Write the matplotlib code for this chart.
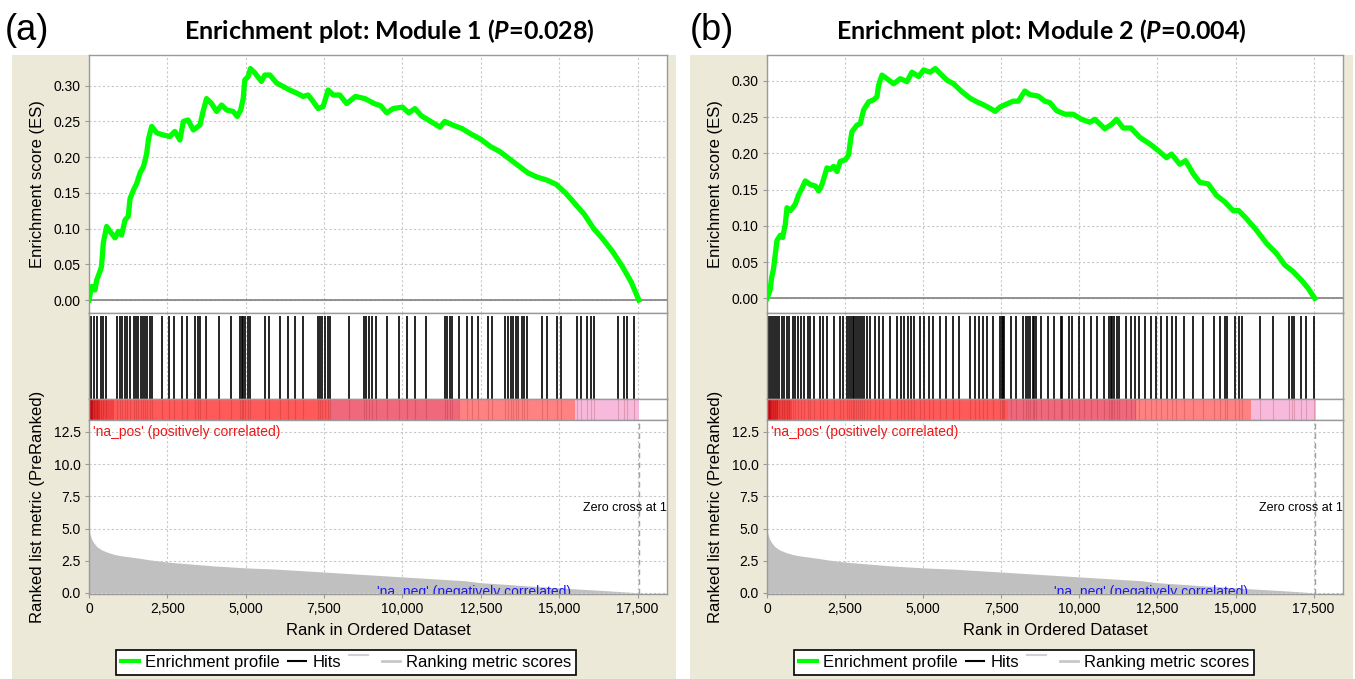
import numpy as np
import matplotlib
matplotlib.use("Agg")
import matplotlib.pyplot as plt
from matplotlib.patches import Rectangle
from matplotlib.lines import Line2D
from matplotlib.transforms import Affine2D
from matplotlib.ticker import FuncFormatter, MultipleLocator

plt.rcParams['font.family'] = ['Liberation Sans', 'DejaVu Sans']
plt.rcParams['mathtext.fontset'] = 'custom'
plt.rcParams['mathtext.it'] = 'Lato:bold:italic'
plt.rcParams['mathtext.rm'] = 'Lato:bold'

# ---- data ----
# running enrichment score, module 1
es_a_rank = [0, 85, 190, 245, 350, 400, 457, 563, 670, 830, 935, 1040, 1150, 1250, 1310, 1420,
             1520, 1630, 1740, 1840, 1900, 2000, 2160, 2370, 2580, 2740, 2900, 3010, 3160, 3330,
             3540, 3640, 3750, 3910, 4070, 4230, 4390, 4600, 4730, 4840, 4920, 4970, 5080, 5150,
             5290, 5500, 5610, 5770, 5980, 6190, 6400, 6610, 6830, 6990, 7150, 7310, 7470, 7630,
             7790, 8000, 8220, 8500, 8800, 9100, 9300, 9500, 9700, 10000, 10200, 10400, 10600,
             10900, 11200, 11350, 11600, 11900, 12200, 12500, 12800, 13100, 13400, 13700, 14000,
             14300, 14600, 14900, 15200, 15500, 15800, 16100, 16400, 16700, 17000, 17300, 17540]
es_a = [0.000, 0.019, 0.014, 0.028, 0.040, 0.047, 0.080, 0.103, 0.096, 0.087, 0.096, 0.091,
        0.112, 0.117, 0.142, 0.154, 0.163, 0.178, 0.187, 0.205, 0.226, 0.243, 0.234, 0.231,
        0.229, 0.236, 0.224, 0.250, 0.252, 0.238, 0.245, 0.264, 0.282, 0.275, 0.264, 0.273,
        0.266, 0.264, 0.257, 0.266, 0.282, 0.308, 0.313, 0.324, 0.318, 0.306, 0.315, 0.315,
        0.304, 0.299, 0.294, 0.290, 0.285, 0.287, 0.278, 0.268, 0.271, 0.294, 0.287, 0.287,
        0.275, 0.285, 0.282, 0.275, 0.272, 0.262, 0.268, 0.270, 0.262, 0.268, 0.258, 0.250,
        0.242, 0.250, 0.245, 0.240, 0.232, 0.225, 0.215, 0.208, 0.198, 0.188, 0.178, 0.172,
        0.168, 0.162, 0.150, 0.135, 0.120, 0.100, 0.085, 0.068, 0.048, 0.025, 0.000]

# running enrichment score, module 2
es_b_rank = [0, 96, 150, 210, 266, 320, 426, 500, 586, 640, 750, 906, 1013, 1120, 1226, 1386,
             1546, 1653, 1760, 1920, 2026, 2133, 2240, 2346, 2506, 2613, 2666, 2720, 2880, 2986,
             3093, 3253, 3413, 3520, 3573, 3680, 3840, 4053, 4266, 4480, 4640, 4853, 5013, 5226,
             5386, 5546, 5760, 5973, 6240, 6506, 6720, 6933, 7146, 7306, 7466, 7670, 7880, 8050,
             8256, 8416, 8683, 8896, 9056, 9270, 9536, 9803, 10070, 10336, 10496, 10816, 11030,
             11190, 11403, 11650, 11936, 12256, 12522, 12790, 12950, 13216, 13400, 13643, 13856,
             14122, 14390, 14656, 14922, 15100, 15350, 15670, 15990, 16310, 16576, 16842, 17110,
             17322, 17536]
es_b = [0.000, 0.011, 0.029, 0.041, 0.061, 0.080, 0.087, 0.084, 0.102, 0.125, 0.121, 0.130,
        0.143, 0.152, 0.162, 0.157, 0.155, 0.148, 0.157, 0.180, 0.178, 0.182, 0.175, 0.189,
        0.191, 0.198, 0.216, 0.230, 0.239, 0.241, 0.260, 0.271, 0.274, 0.278, 0.294, 0.308,
        0.303, 0.296, 0.303, 0.299, 0.312, 0.306, 0.315, 0.312, 0.317, 0.310, 0.301, 0.296,
        0.285, 0.276, 0.271, 0.267, 0.262, 0.258, 0.264, 0.268, 0.272, 0.272, 0.286, 0.281,
        0.279, 0.272, 0.270, 0.259, 0.254, 0.254, 0.247, 0.243, 0.247, 0.234, 0.240, 0.247,
        0.235, 0.235, 0.222, 0.213, 0.204, 0.194, 0.199, 0.185, 0.190, 0.172, 0.160, 0.158,
        0.142, 0.133, 0.121, 0.121, 0.110, 0.094, 0.076, 0.062, 0.046, 0.037, 0.025, 0.014,
        0.000]

# gene set members (hit ranks)
hits_a = [57, 155, 253, 376, 449, 547, 879, 977, 1063, 1161, 1222, 1308, 1431, 1504, 1578,
          1652, 1738, 1799, 1860, 1946, 2020, 2314, 2560, 2719, 2965, 3124, 3394, 3468, 3541,
          3738, 4155, 4523, 4805, 4866, 4928, 4989, 5063, 5136, 5603, 5750, 6093, 6339, 6584,
          6830, 7296, 7370, 7443, 7541, 7615, 7689, 8302, 8768, 8842, 8940, 9038, 9161, 9504,
          9897, 10143, 10388, 10756, 11345, 11431, 11517, 11590, 11799, 12044, 12228, 12412,
          12719, 12866, 13271, 13357, 13455, 13541, 13627, 13701, 13799, 13885, 13971, 14437,
          14621, 14928, 15051, 15566, 15689, 15885, 16008, 16106, 16867, 17076, 17162, 17382]
hits_b = [56, 120, 190, 260, 330, 400, 470, 540, 640, 700, 817, 900, 980, 1080, 1180, 1300,
          1371, 1520, 1700, 1800, 1925, 2130, 2330, 2420, 2560, 2618, 2680, 2740, 2800, 2860,
          2920, 2980, 3050, 3120, 3200, 3310, 3450, 3600, 3726, 3950, 4160, 4300, 4400, 4500,
          4600, 4696, 4900, 5020, 5180, 5300, 5527, 5740, 5950, 6160, 6500, 6650, 6780, 6912,
          7050, 7250, 7450, 7510, 7560, 7603, 7820, 7980, 8180, 8290, 8360, 8435, 8500, 8560,
          8620, 8780, 8990, 9200, 9400, 9460, 9681, 9760, 9980, 10150, 10374, 10550, 10800,
          10940, 11000, 11060, 11120, 11200, 11274, 11500, 11640, 11780, 11900, 12100, 12300,
          12451, 12620, 12800, 12950, 13100, 13352, 13650, 13950, 14300, 14500, 14650, 14737,
          14980, 15100, 15221, 15775, 16190, 16700, 16800, 16883, 17100, 17250, 17506]

# ranked list metric
metric_rank = [0, 30, 80, 150, 250, 400, 600, 800, 1000, 1300, 1600, 2000, 2500, 3000, 4000,
               5000, 6000, 7000, 7500, 8000, 9000, 10000, 11000, 12000, 12500, 13000, 14000,
               15000, 15500, 16000, 16500, 17000, 17300, 17540]
metric = [5.0, 4.6, 4.2, 3.9, 3.6, 3.35, 3.15, 3.0, 2.9, 2.8, 2.7, 2.55, 2.4, 2.3, 2.1, 1.95,
          1.85, 1.7, 1.63, 1.55, 1.4, 1.25, 1.1, 0.95, 0.8, 0.72, 0.55, 0.4, 0.32, 0.25, 0.18,
          0.1, 0.05, 0.0]

# colour bar under the hits
bar_edges = [0, 120, 350, 800, 7700, 11800, 15500, 17560]
bar_colors = ['#C8101A', '#E02828', '#F24040', '#FF5A5A', '#F0687C', '#FF8282', '#F8BADC']

zero_cross = 17540
n_genes = 18440

W, H = 1355, 679
fig = plt.figure(figsize=(W / 100, H / 100), dpi=100, facecolor='white')


def add_ax(l, t, r, b):
    return fig.add_axes([l / W, 1 - b / H, (r - l) / W, (b - t) / H])


def frame(ax):
    for s in ax.spines.values():
        s.set_color('#9A9A9A')
        s.set_linewidth(1.0)


panels = [
    dict(tag='(a)', name='Enrichment plot: Module 1 ($\\it{P}$=0.028)', left=89, right=667,
         bg=(12, 676), tx=389, tagx=5, rank=es_a_rank, es=es_a, hits=hits_a,
         ylim=(-0.0182, 0.343)),
    dict(tag='(b)', name='Enrichment plot: Module 2 ($\\it{P}$=0.004)', left=767, right=1343,
         bg=(690, 1353), tx=1041, tagx=690, rank=es_b_rank, es=es_b, hits=hits_b,
         ylim=(-0.0202, 0.3357)),
]

grid_kw = dict(color='#C8C8C8', linestyle=(0, (2, 2)), linewidth=0.8)

for p in panels:
    # beige background of the applet window
    fig.add_artist(Rectangle((p['bg'][0] / W, 0), (p['bg'][1] - p['bg'][0]) / W, 1 - 55 / H,
                             transform=fig.transFigure, facecolor='#ECE9D8', edgecolor='none',
                             zorder=-10))
    fig.text(p['tx'] / W, 1 - 31 / H, p['name'], ha='center', va='center', fontsize=18,
             fontweight='bold', family='Lato')
    fig.text(p['tagx'] / W, 1 - 30 / H, p['tag'], ha='left', va='center', fontsize=26)

    l, r = p['left'], p['right']
    ax_es = add_ax(l, 55, r, 313)
    ax_hit = add_ax(l, 313, r, 399)
    ax_bar = add_ax(l, 399, r, 420)
    ax_met = add_ax(l, 420, r, 594)

    for ax in (ax_es, ax_hit, ax_bar, ax_met):
        ax.set_xlim(0, n_genes)
        ax.set_facecolor('white')
        frame(ax)
        ax.xaxis.set_major_locator(MultipleLocator(2500))

    # enrichment score
    ax_es.grid(True, **grid_kw)
    ax_es.set_axisbelow(True)
    ax_es.axhline(0, color='#808080', lw=1.2, zorder=1)
    ax_es.plot(p['rank'], p['es'], color='#00FF00', lw=3.8, solid_joinstyle='round', zorder=3)
    ax_es.set_ylim(*p['ylim'])
    ax_es.yaxis.set_major_locator(MultipleLocator(0.05))
    ax_es.yaxis.set_major_formatter(FuncFormatter(lambda v, _: '%.2f' % v))
    ax_es.tick_params(axis='x', length=0, labelbottom=False)
    ax_es.tick_params(axis='y', length=3, color='#9A9A9A', labelsize=10, pad=3)
    ax_es.set_ylabel('Enrichment score (ES)', fontsize=12, labelpad=6)

    # hits
    ax_hit.grid(True, axis='x', **grid_kw)
    ax_hit.vlines(p['hits'], 0, 0.97, color='black', lw=1.2)
    ax_hit.set_ylim(0, 1)
    ax_hit.set_yticks([])
    ax_hit.tick_params(axis='x', length=0, labelbottom=False)

    # colour bar
    for i, c in enumerate(bar_colors):
        ax_bar.axvspan(bar_edges[i], bar_edges[i + 1], color=c, lw=0)
    ax_bar.vlines(p['hits'], 0, 1, color='#700000', lw=0.8, alpha=0.18)
    ax_bar.set_ylim(0, 1)
    ax_bar.set_yticks([])
    ax_bar.tick_params(axis='x', length=0, labelbottom=False)

    # ranked list metric
    ax_met.grid(True, **grid_kw)
    ax_met.set_axisbelow(True)
    ax_met.fill_between(metric_rank, 0, metric, color='#C0C0C0', lw=0, zorder=2)
    ax_met.axvline(zero_cross, color='#A0A0A0', ls=(0, (4, 3)), lw=1.0, zorder=3)
    ax_met.set_ylim(-0.078, 13.43)
    ax_met.yaxis.set_major_locator(MultipleLocator(2.5))
    ax_met.yaxis.set_major_formatter(FuncFormatter(lambda v, _: '%.1f' % v))
    ax_met.xaxis.set_major_formatter(FuncFormatter(lambda v, _: '{:,.0f}'.format(v)))
    ax_met.tick_params(length=3, color='#9A9A9A', labelsize=10, pad=3)
    ax_met.set_ylabel('Ranked list metric (PreRanked)', fontsize=12, labelpad=6)
    ax_met.set_xlabel('Rank in Ordered Dataset', fontsize=12, labelpad=5)
    ax_met.text(120, 12.5, "'na_pos' (positively correlated)", color='#F01818', fontsize=10,
                va='center', ha='left', zorder=5)
    ax_met.text(9200, 0.05, "'na_neg' (negatively correlated)", color='#1A1AF0', fontsize=10,
                va='center', ha='left', zorder=5, clip_on=True)
    ax_met.text(n_genes, 6.6, 'Zero cross at 1', color='black', fontsize=9, va='center',
                ha='right', zorder=5, clip_on=True)

    handles = [Line2D([], [], color='#00FF00', lw=3), Line2D([], [], color='black', lw=1.5),
               Line2D([], [], color='#D0D0D0', lw=1.5),
               Line2D([], [], color='#C8C8C8', lw=2)]
    leg = ax_met.legend(handles, ['Enrichment profile', 'Hits', '', 'Ranking metric scores'],
                        loc='upper left', ncol=4, fontsize=12,
                        bbox_to_anchor=((l + 27) / W, 1 - 650 / H),
                        bbox_transform=fig.transFigure, frameon=True, fancybox=False,
                        framealpha=1, edgecolor='black', handlelength=1.1, handletextpad=0.35,
                        columnspacing=0.5, borderpad=0.3, borderaxespad=0)
    leg.get_frame().set_linewidth(1.2)
    # the small raised grey dash of the original legend
    dash = leg.legend_handles[2]
    dash.set_transform(dash.get_transform() + Affine2D().translate(0, 6))

fig.savefig('out.png', dpi=100, facecolor='white')
